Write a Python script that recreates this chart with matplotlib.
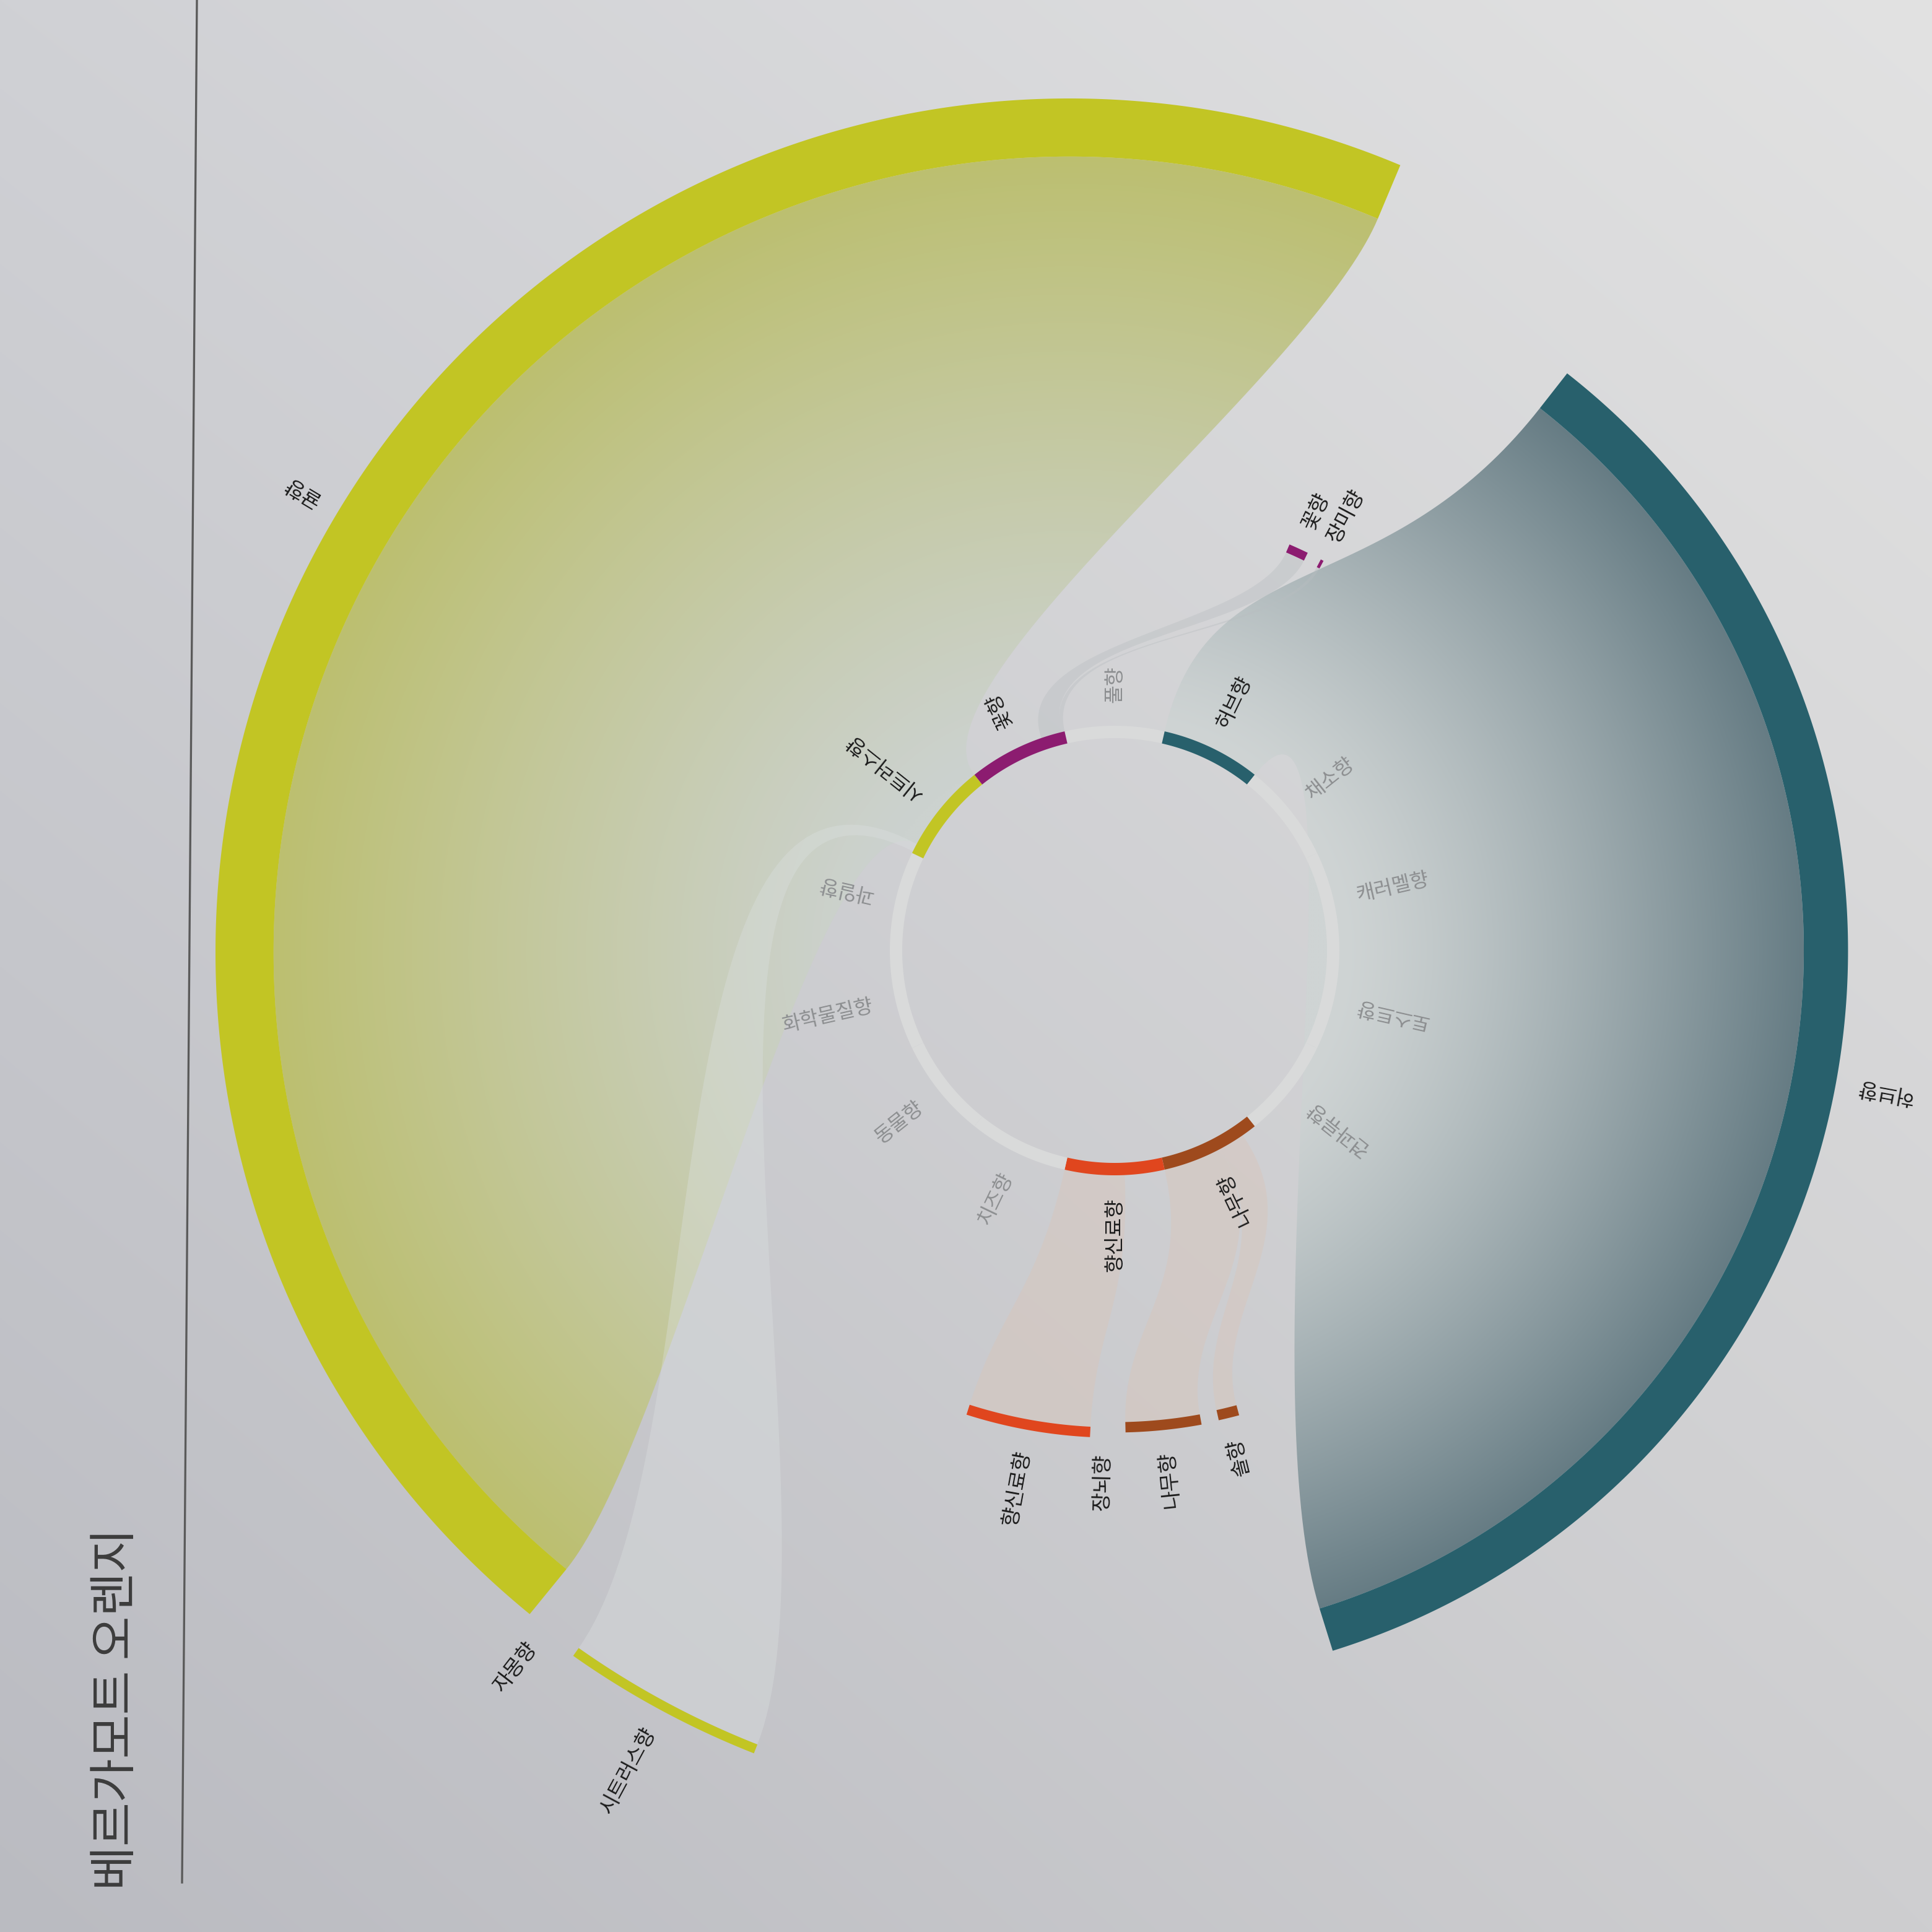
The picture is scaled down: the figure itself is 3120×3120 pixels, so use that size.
import numpy as np
import matplotlib
matplotlib.use("Agg")
import matplotlib.pyplot as plt
from matplotlib.patches import Polygon
from matplotlib.colors import to_rgb

plt.rcParams['font.family'] = ['Noto Sans CJK KR', 'DejaVu Sans']

W = 3120
CENTER = (1800, 1535)
CITRUS_CENTER = (1727, 1538)   # the photographed page is a bit skewed on the left
R_UNIT = 140.0

# inner ring: aroma families, clockwise from the top
families = ['풀향', '허브향', '채소향', '캐러멜향', '토스트향', '견과류향', '나무향',
            '향신료향', '치즈향', '동물향', '화학물질향', '과일향', '시트러스향', '꽃향']
active_families = ['허브향', '나무향', '향신료향', '시트러스향', '꽃향']

# outer ring: single notes (angles in degrees, level = radius, weight = band width)
notes = ['허브향', '장미향', '꽃향', '귤향', '자몽향', '시트러스향',
         '향신료향', '장뇌향', '나무향', '솔향']
note_family = ['허브향', '꽃향', '꽃향', '시트러스향', '시트러스향', '시트러스향',
               '향신료향', '향신료향', '나무향', '나무향']
note_start = [-72.7, 61.8, 64.1, 67.2, 232.2, 234.8, -107.7, -91.3, -88.7, -77.5]
note_end = [51.9, 62.2, 66.7, 230.8, 232.2, 248.5, -92.9, -91.3, -79.6, -75.0]
note_level = [8.46, 5.1, 5.1, 9.85, 9.85, 9.93, 5.62, 5.56, 5.56, 5.55]
note_weight = [0.51, 0.1, 0.1, 0.67, 0.0, 0.11, 0.12, 0.0, 0.12, 0.12]
note_share = [1.0, 0.04, 0.2, 0.9, 0.0, 0.08, 0.6, 0.0, 0.6, 0.25]

title = '베르가모트 오렌지'

family_color = {
    '허브향': '#28606c',
    '꽃향': '#8c1c70',
    '시트러스향': '#c2c524',
    '향신료향': '#e0461e',
    '나무향': '#9e4a1d',
}
ring_gray = '#d9dada'
# how far the ribbon edges bend out of the inner ring / into the outer arc
ribbon_bend = {'귤향': (0.2, 0.3), '허브향': (0.42, 0.55)}


def polar(c, r, th):
    t = np.radians(th)
    return c[0] + r * np.cos(t), c[1] - r * np.sin(t)


def arc_pts(c, r, t0, t1):
    n = max(int(abs(t1 - t0) * 3) + 2, 4)
    ts = np.linspace(t0, t1, n)
    x, y = polar(c, r, ts)
    return np.column_stack([x, y])


def band_pts(c, r_in, r_out, t0, t1):
    return np.vstack([arc_pts(c, r_out, t0, t1), arc_pts(c, r_in, t1, t0)])


def bezier(p0, p1, p2, p3, n=80):
    t = np.linspace(0, 1, n)[:, None]
    return ((1 - t) ** 3) * p0 + 3 * ((1 - t) ** 2) * t * p1 + 3 * (1 - t) * t ** 2 * p2 + t ** 3 * p3


def ribbon_pts(ci, ri, a0, a1, co, ro, b0, b1, bend):
    p = lambda c, r, t: np.array(polar(c, r, t))
    k_in = bend[0] * (ro - ri)
    k_out = bend[1] * (ro - ri)
    s1 = arc_pts(ci, ri, a0, a1)
    s2 = bezier(p(ci, ri, a1), p(ci, ri + k_in, a1), p(co, ro - k_out, b1), p(co, ro, b1))
    s3 = arc_pts(co, ro, b1, b0)
    s4 = bezier(p(co, ro, b0), p(co, ro - k_out, b0), p(ci, ri + k_in, a0), p(ci, ri, a0))
    return np.vstack([s1, s2, s3, s4])


def place_label(c, r, theta, text, **kw):
    x, y = polar(c, r, theta)
    th = (theta + 180) % 360 - 180
    if 0 <= th <= 180:
        rot, ha = th, 'left'
    else:
        rot, ha = th + 180, 'right'
    ax.text(x, y, text, rotation=rot, rotation_mode='anchor', ha=ha, va='center', **kw)


fig = plt.figure(figsize=(10.4, 10.4), dpi=300)
ax = fig.add_axes([0, 0, 1, 1])
ax.axis('off')

# page background with photo lighting
n = 780
xs = (np.arange(n) + 0.5) * W / n
X, Y = np.meshgrid(xs, xs)
u, v = X / W, Y / W
tl, tr = np.array([208, 209, 213]), np.array([226, 226, 226])
bl, br = np.array([186, 187, 193]), np.array([206, 206, 208])
bg = ((1 - u) * (1 - v))[..., None] * tl + (u * (1 - v))[..., None] * tr \
    + ((1 - u) * v)[..., None] * bl + (u * v)[..., None] * br
ax.imshow(bg / 255.0, extent=(0, W, W, 0), origin='upper', interpolation='bilinear', zorder=0)


def gradient_fill(pts, c, r0, r1, col_in, col_out, gamma, z):
    patch = Polygon(pts, closed=True, facecolor='none', edgecolor='none')
    ax.add_patch(patch)
    R = np.hypot(X - c[0], Y - c[1])
    t = np.clip((R - r0) / (r1 - r0), 0, 1) ** gamma
    img = (1 - t)[..., None] * np.array(to_rgb(col_in)) + t[..., None] * np.array(to_rgb(col_out))
    im = ax.imshow(img, extent=(0, W, W, 0), origin='upper', interpolation='bilinear', zorder=z)
    im.set_clip_path(patch)


# inner ring geometry
RING_IN, RING_OUT = 343, 363
step = 360.0 / len(families)
fam_center = {f: 90 - i * step for i, f in enumerate(families)}

# ribbons from family segments to notes
used = {f: 0.0 for f in families}
for i, name in enumerate(notes):
    fam = note_family[i]
    seg0 = fam_center[fam] - step / 2
    a0 = seg0 + used[fam] * step
    a1 = a0 + note_share[i] * step
    used[fam] += note_share[i]
    if note_end[i] - note_start[i] <= 0 or note_share[i] <= 0:
        continue
    c = CITRUS_CENTER if fam == '시트러스향' else CENTER
    r_out = note_level[i] * R_UNIT
    r_band = r_out - note_weight[i] * R_UNIT
    bend = ribbon_bend.get(name, (0.5, 0.4))
    pts = ribbon_pts(CENTER, RING_OUT, a0, a1, c, r_band, note_start[i], note_end[i], bend)
    if name == '귤향':
        gradient_fill(pts, c, 330, r_band, '#ccd2cf', '#bcbf70', 1.15, 1)
    elif name == '허브향':
        gradient_fill(pts, c, RING_OUT, r_band, '#cfd4d4', '#667c84', 1.3, 1)
    elif fam == '꽃향':
        ax.add_patch(Polygon(pts, closed=True, facecolor='#b9bec1', alpha=0.4,
                             edgecolor='none', zorder=2))
    elif fam == '시트러스향':
        ax.add_patch(Polygon(pts, closed=True, facecolor='#dde2e2', alpha=0.35,
                             edgecolor='none', zorder=2))
    else:
        ax.add_patch(Polygon(pts, closed=True, facecolor='#d9c6ba', alpha=0.45,
                             edgecolor='none', zorder=2))

# inner ring segments and labels
for f in families:
    t = fam_center[f]
    col = family_color.get(f, ring_gray)
    ax.add_patch(Polygon(band_pts(CENTER, RING_IN, RING_OUT, t - step / 2, t + step / 2),
                         closed=True, facecolor=col, edgecolor='none', zorder=3))
for f in families:
    active = f in active_families
    place_label(CENTER, RING_OUT + 37, fam_center[f], f, fontsize=7.8,
                color='#1a1a1a' if active else '#8c8e90', zorder=5)

# outer note arcs and labels
for i, name in enumerate(notes):
    fam = note_family[i]
    c = CITRUS_CENTER if fam == '시트러스향' else CENTER
    r_out = note_level[i] * R_UNIT
    r_in = r_out - note_weight[i] * R_UNIT
    if note_end[i] - note_start[i] > 0:
        ax.add_patch(Polygon(band_pts(c, r_in, r_out, note_start[i], note_end[i]),
                             closed=True, facecolor=family_color[fam], edgecolor='none', zorder=4))
    mid = (note_start[i] + note_end[i]) / 2
    place_label(c, r_out + 35, mid, name, fontsize=8, color='#1a1a1a', zorder=5)

# title and page rule
ax.text(188, 3052, title, rotation=90, rotation_mode='anchor', ha='left', va='center',
        fontsize=18.5, color='#3c3c3c', zorder=5)
ax.plot([318, 294], [0, 3040], color='#5a5a5a', lw=0.8, zorder=5)

ax.set_xlim(0, W)
ax.set_ylim(W, 0)
fig.savefig('out.png', dpi=300)
